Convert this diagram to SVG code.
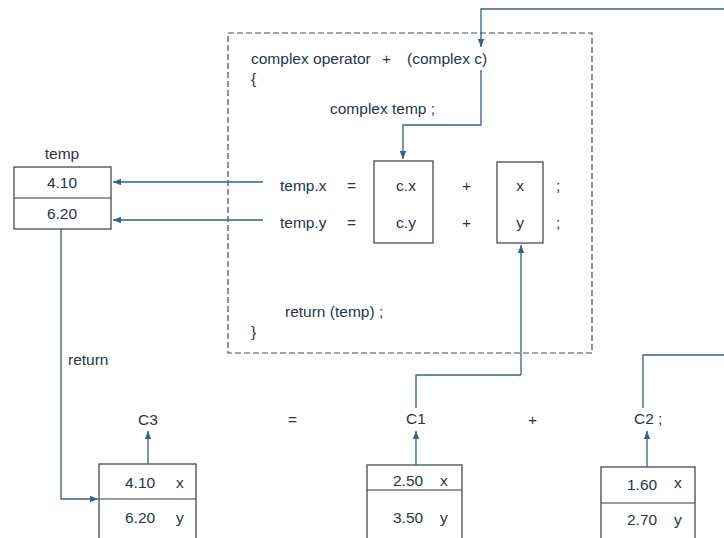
<svg xmlns="http://www.w3.org/2000/svg" width="724" height="538" viewBox="0 0 724 538">
<defs>
<marker id="ah" viewBox="0 0 10 10" refX="10" refY="5" markerWidth="8" markerHeight="8" markerUnits="userSpaceOnUse" orient="auto">
<path d="M0,1 L10,5 L0,9 Z" fill="#2f6391"/>
</marker>
</defs>
<style>
text{font-family:"Liberation Sans",Arial,sans-serif;font-size:14px;fill:#25354a}
.k{font-size:15.5px}
.m{text-anchor:middle}
.box{fill:#fff;stroke:#333c46;stroke-width:1.2}
.c{fill:none;stroke:#2f6391;stroke-width:1.3}
.a{marker-end:url(#ah)}
.dash{fill:none;stroke:#3c4a5a;stroke-width:1.2;stroke-dasharray:6,3}
</style>
<rect width="724" height="538" fill="#fff"/>
<g id="function">
<rect class="dash" x="228" y="33" width="364" height="320"/>
<text class="k" x="251" y="64">complex operator</text>
<text class="k" x="382" y="64">+</text>
<text class="k" x="407" y="64">(complex c)</text>
<text class="k" x="251" y="84">{</text>
<text class="k" x="330" y="114">complex temp ;</text>
<text class="k" x="280" y="191">temp.x</text>
<text class="k" x="347" y="191">=</text>
<text class="k" x="280" y="228">temp.y</text>
<text class="k" x="347" y="228">=</text>
<text class="k" x="462" y="191">+</text>
<text class="k" x="462" y="228">+</text>
<text class="k" x="556" y="191">;</text>
<text class="k" x="556" y="228">;</text>
<text class="k" x="285" y="317">return (temp) ;</text>
<text class="k" x="251" y="337">}</text>
</g>
<g id="cbox">
<rect class="box" x="374" y="161" width="59" height="82"/>
<text class="k m" x="406" y="191">c.x</text>
<text class="k m" x="406" y="228">c.y</text>
</g>
<g id="xybox">
<rect class="box" x="497" y="162" width="46" height="81"/>
<text class="k m" x="520" y="191">x</text>
<text class="k m" x="520" y="228">y</text>
</g>
<g id="temp">
<text class="k m" x="62" y="159">temp</text>
<rect class="box" x="14" y="167" width="97" height="62"/>
<line x1="14" y1="198" x2="111" y2="198" stroke="#333c46" stroke-width="1.2"/>
<text class="k m" x="62" y="188">4.10</text>
<text class="k m" x="62" y="219">6.20</text>
</g>
<g id="C3">
<text class="k m" x="148" y="425">C3</text>
<rect class="box" x="99" y="464" width="97" height="80"/>
<line x1="99" y1="499" x2="196" y2="499" stroke="#333c46" stroke-width="1.2"/>
<text class="k" x="125" y="488">4.10</text>
<text class="k" x="176" y="488">x</text>
<text class="k" x="125" y="523">6.20</text>
<text class="k" x="176" y="523">y</text>
</g>
<g id="C1">
<text class="k m" x="416" y="424">C1</text>
<rect class="box" x="367" y="465" width="95" height="80"/>
<line x1="367" y1="490" x2="462" y2="490" stroke="#333c46" stroke-width="1.2"/>
<text class="k" x="393" y="486">2.50</text>
<text class="k" x="440" y="486">x</text>
<text class="k" x="393" y="523">3.50</text>
<text class="k" x="440" y="523">y</text>
</g>
<g id="C2">
<text class="k" x="634" y="424">C2 ;</text>
<rect class="box" x="601" y="467" width="94" height="80"/>
<line x1="601" y1="503" x2="695" y2="503" stroke="#333c46" stroke-width="1.2"/>
<text class="k" x="627" y="490">1.60</text>
<text class="k" x="674" y="488">x</text>
<text class="k" x="627" y="525">2.70</text>
<text class="k" x="674" y="525">y</text>
</g>
<g id="ops">
<text class="k" x="288" y="425">=</text>
<text class="k" x="528" y="425">+</text>
<text class="k" x="68" y="365">return</text>
</g>
<g id="connectors">
<path class="c a" d="M724,9 H481 V47"/>
<path class="c a" d="M481,70 V125 H403 V159"/>
<path class="c a" d="M263,182 H113"/>
<path class="c a" d="M263,220 H113"/>
<path class="c a" d="M61,229 V499 H98"/>
<path class="c a" d="M148,464 V431"/>
<path class="c a" d="M416,465 V431"/>
<path class="c a" d="M647,467 V431"/>
<path class="c" d="M416,408 V375 H521"/>
<path class="c a" d="M521,375 V245"/>
<path class="c" d="M643,408 V355 H724"/>
</g>
</svg>
